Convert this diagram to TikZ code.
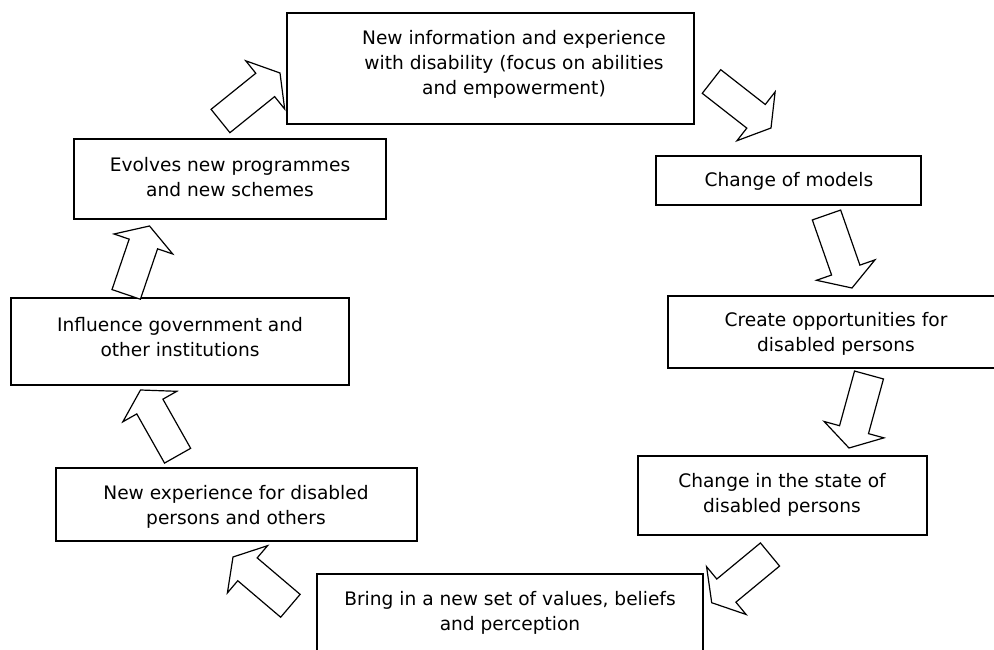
\documentclass[tikz,border=0pt]{standalone}
\usepackage{fontspec}
\setmainfont{DejaVu Sans}
\usetikzlibrary{calc}
\tikzset{
  box/.style={draw=black, line width=1.4pt, fill=white, inner sep=0pt},
  txt/.style={align=center, inner sep=0pt, font=\fontsize{18.6}{25}\selectfont},
  blockarrow/.style={draw=black, fill=white, line width=1.2pt, line join=miter}
}
\newcommand\blockarr[2]{%
  \path ($(#2)!19pt!(#1)$) coordinate (h#1);
  \draw[blockarrow] ($(#1)!15pt!90:(#2)$) -- ($(h#1)!15pt!90:(#2)$) -- ($(h#1)!31pt!90:(#2)$) -- (#2)
    -- ($(h#1)!31pt!-90:(#2)$) -- ($(h#1)!15pt!-90:(#2)$) -- ($(#1)!15pt!-90:(#2)$) -- cycle;
}
\begin{document}
\begin{tikzpicture}[x=1pt, y=-1pt]
\useasboundingbox (0,0) rectangle (994,650);
\clip (0,0) rectangle (994,650);
% boxes
\node[box, minimum width=407pt, minimum height=111pt] (top) at (490.5,68.5) {};
\node[txt] (toptxt) at (514,64) {New information and experience\\with disability (focus on abilities\\and empowerment)};
\node[box, minimum width=265pt, minimum height=49pt] (models) at (788.5,180.5) {};
\node[txt] (modelstxt) at (789,181) {Change of models};
\node[box, minimum width=332pt, minimum height=72pt] (create) at (834,332) {};
\node[txt] (createtxt) at (836,333.5) {Create opportunities for\\disabled persons};
\node[box, minimum width=289pt, minimum height=79pt] (state) at (782.5,495.5) {};
\node[txt] (statetxt) at (782,494.5) {Change in the state of\\disabled persons};
\node[box, minimum width=386pt, minimum height=126pt] (bring) at (510,637) {};
\node[txt] (bringtxt) at (510,612.5) {Bring in a new set of values, beliefs\\and perception};
\node[box, minimum width=361pt, minimum height=73pt] (newexp) at (236.5,504.5) {};
\node[txt] (newexptxt) at (236,506.5) {New experience for disabled\\persons and others};
\node[box, minimum width=338pt, minimum height=87pt] (infl) at (180,341.5) {};
\node[txt] (infltxt) at (180,337) {Influence government and\\other institutions};
\node[box, minimum width=312pt, minimum height=80pt] (evolves) at (230,179) {};
\node[txt] (evolvestxt) at (230,177) {Evolves new programmes\\and new schemes};
% arrow ends
\coordinate (a1s) at (220.5,121);  \coordinate (a1e) at (280,73);
\coordinate (a2s) at (711.5,81.5); \coordinate (a2e) at (771,128);
\coordinate (a3s) at (826.5,215);  \coordinate (a3e) at (852,288);
\coordinate (a4s) at (869,375);    \coordinate (a4e) at (849,448);
\coordinate (a5s) at (770,554.5);  \coordinate (a5e) at (711.7,602.7);
\coordinate (a6s) at (290.4,605.8);\coordinate (a6e) at (233,557);
\coordinate (a7s) at (177.6,455.7);\coordinate (a7e) at (140.5,390);
\coordinate (a8s) at (126.2,294.4);\coordinate (a8e) at (149.5,226);
\blockarr{a1s}{a1e}
\blockarr{a2s}{a2e}
\blockarr{a3s}{a3e}
\blockarr{a4s}{a4e}
\blockarr{a5s}{a5e}
\blockarr{a6s}{a6e}
\blockarr{a7s}{a7e}
\blockarr{a8s}{a8e}
\end{tikzpicture}
\end{document}
